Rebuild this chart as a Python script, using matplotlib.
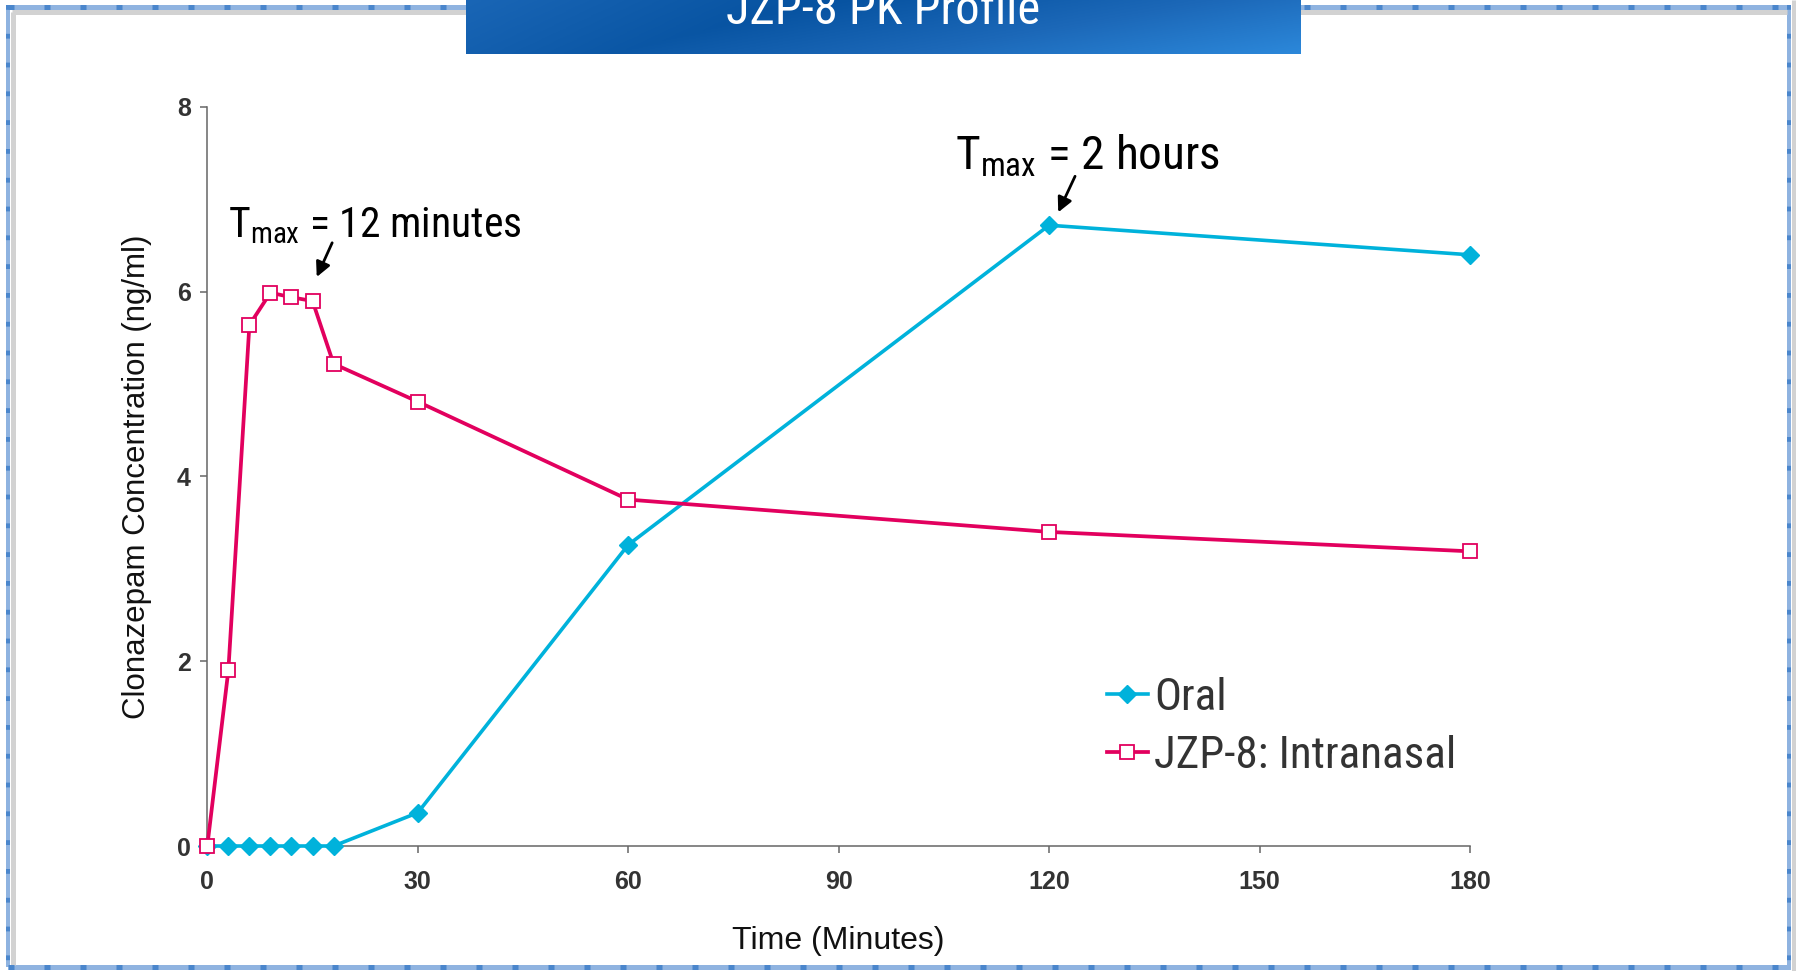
import matplotlib
matplotlib.use("Agg")
import matplotlib.pyplot as plt
import numpy as np
from matplotlib import font_manager
from matplotlib.colors import LinearSegmentedColormap

# pick a condensed face for the slide-style text
_names = {f.name for f in font_manager.fontManager.ttflist}
NARROW = next((n for n in ["Liberation Sans Narrow", "Roboto Condensed", "Open Sans Condensed"]
               if n in _names), "Liberation Sans")

plt.rcParams["font.family"] = ["Liberation Sans", "DejaVu Sans"]
plt.rcParams["mathtext.fontset"] = "custom"
plt.rcParams["mathtext.rm"] = NARROW
plt.rcParams["mathtext.it"] = NARROW

TIME = [0, 3, 6, 9, 12, 15, 18, 30, 60, 120, 180]
ORAL = [0, 0, 0, 0, 0, 0, 0, 0.36, 3.26, 6.72, 6.40]
INTRANASAL = [0, 1.90, 5.64, 5.99, 5.94, 5.90, 5.22, 4.81, 3.75, 3.40, 3.19]
SERIES_LABELS = ["Oral", "JZP-8: Intranasal"]
X_TICKS = [0, 30, 60, 90, 120, 150, 180]
Y_TICKS = [0, 2, 4, 6, 8]

CYAN = "#00B2DB"
PINK = "#E2005E"
W, H = 1796, 971

fig = plt.figure(figsize=(W / 100, H / 100), dpi=100)

# background layer in pixel coords: frame + title banner
bg = fig.add_axes([0, 0, 1, 1], zorder=0)
bg.set_xlim(0, W)
bg.set_ylim(H, 0)
bg.axis("off")

px = 0.72  # points per pixel at dpi 100
for xs, ys, col, lw in [
    ([8, 8], [5, 967], "#8FB3E0", 4),
    ([1789, 1789], [5, 970], "#8FB3E0", 4),
    ([8, 1789], [7.5, 7.5], "#8FB3E0", 5),
    ([8, 1789], [967.5, 967.5], "#8FB3E0", 5),
    ([12.5, 12.5], [12, 965], "#D2D2D2", 5),
    ([12, 1787], [12.5, 12.5], "#D2D2D2", 5),
    ([1793.5, 1793.5], [0, 971], "#D2D2D2", 5),
]:
    bg.plot(xs, ys, color=col, lw=lw * px, solid_capstyle="butt")
# darker tick pattern in the blue band
for xs, ys, lw in [([8, 8], [5, 967], 4), ([1789, 1789], [5, 970], 4),
                   ([8, 1789], [7.5, 7.5], 5), ([8, 1789], [967.5, 967.5], 5)]:
    bg.plot(xs, ys, color="#4A86CC", lw=lw * px, dashes=(1.2, 6), solid_capstyle="butt")

# title banner with a soft blue gradient
gx = np.linspace(0, 1, 400)
gy = np.linspace(0, 1, 60)
GX, GY = np.meshgrid(gx, gy)
grad = np.clip(0.55 * np.abs(GX - 0.3 + 0.25 * (GY - 0.5)) * 1.6 + 0.1 * GY, 0, 1)
cmap = LinearSegmentedColormap.from_list("banner", ["#0652A0", "#1C68B8", "#2C88DA"])
bg.imshow(grad, cmap=cmap, extent=[466, 1301, 54, 0], aspect="auto", zorder=3)
bg.text(883.5, 24, "JZP-8 PK Profile", color="white", fontsize=35, family=NARROW,
        ha="center", va="baseline", zorder=4)

# main chart
ax = fig.add_axes([207.3 / W, 1 - 846 / H, (1470 - 207.3) / W, (846 - 107) / H], zorder=2)
ax.set_facecolor("none")

ax.plot(TIME, ORAL, color=CYAN, lw=2.6, marker="D", ms=9.5, mfc=CYAN, mec=CYAN,
        clip_on=False, zorder=3, label=SERIES_LABELS[0])
ax.plot(TIME, INTRANASAL, color=PINK, lw=2.7, marker="s", ms=9.5, mfc="white", mec=PINK,
        mew=1.3, clip_on=False, zorder=4, label=SERIES_LABELS[1])

ax.set_xlim(0, 180)
ax.set_ylim(0, 8)
ax.set_xticks(X_TICKS)
ax.set_yticks(Y_TICKS)
for s in ["top", "right"]:
    ax.spines[s].set_visible(False)
for s in ["left", "bottom"]:
    ax.spines[s].set_color("#666666")
    ax.spines[s].set_linewidth(1.1)
ax.tick_params(axis="both", direction="out", length=5, width=1.1, color="#666666",
               labelcolor="#333333", labelsize=18)
ax.tick_params(axis="x", pad=12)
ax.tick_params(axis="y", pad=7)
for lab in ax.get_xticklabels() + ax.get_yticklabels():
    lab.set_fontweight("bold")

ax.set_xlabel("Time (Minutes)", fontsize=23, color="#111111", labelpad=23)
ax.set_ylabel("Clonazepam Concentration (ng/ml)", fontsize=22.5, color="#111111", labelpad=18)

# Tmax callouts
ax.text(3.0, 6.59, r"$\mathrm{T}_{\mathrm{max}}$ = 12 minutes", fontsize=30, family=NARROW,
        ha="left", va="baseline")
ax.annotate("", xy=(15.6, 6.16), xytext=(17.8, 6.53),
            arrowprops=dict(arrowstyle="-|>", lw=2, color="black", mutation_scale=22,
                            shrinkA=0, shrinkB=0))
ax.text(106.6, 7.32, r"$\mathrm{T}_{\mathrm{max}}$ = 2 hours", fontsize=34, family=NARROW,
        ha="left", va="baseline")
ax.annotate("", xy=(121.3, 6.86), xytext=(123.7, 7.25),
            arrowprops=dict(arrowstyle="-|>", lw=2, color="black", mutation_scale=22,
                            shrinkA=0, shrinkB=0))

leg = ax.legend(loc="upper left", bbox_to_anchor=(1107 / W, 1 - 677 / H),
                bbox_transform=fig.transFigure, frameon=False, borderpad=0,
                borderaxespad=0, handlelength=0.9, handletextpad=0.15, labelspacing=0.35,
                prop=dict(family=NARROW, size=32.5))
for t in leg.get_texts():
    t.set_color("#333333")

fig.savefig("out.png", dpi=100)
